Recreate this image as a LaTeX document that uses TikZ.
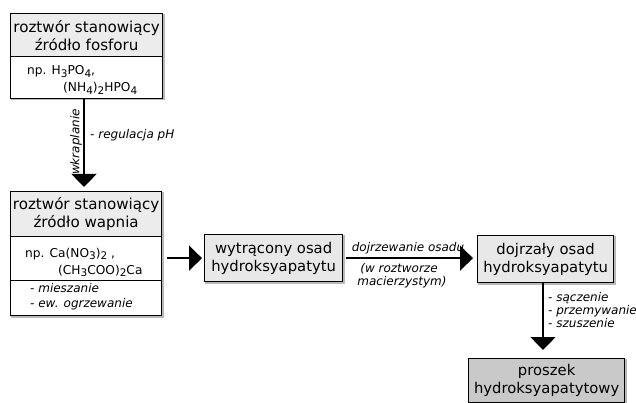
\documentclass[tikz,border=0pt]{standalone}
\usepackage{fontspec}
\setmainfont{DejaVu Sans}
\usetikzlibrary{arrows.meta}
\newcommand{\lowsub}[1]{\raisebox{-0.35ex}{\fontsize{10.5}{11}\selectfont #1}}
\begin{document}
\begin{tikzpicture}[x=1pt,y=-1pt,
  box/.style={draw, line width=1.3pt, inner sep=0pt, anchor=north west, align=center,
     font=\fontsize{14.8}{18}\selectfont},
  shadowed/.style={preaction={draw=gray!55, line width=1.3pt, transform canvas={shift={(1.2pt,-1.2pt)}}}},
  hdr/.style={fill=gray!15, font=\fontsize{15.1}{18}\selectfont},
  light/.style={fill=gray!18},
  dark/.style={fill=gray!42},
  small/.style={font=\fontsize{12.2}{13}\selectfont, inner sep=0pt, anchor=base west},
  note/.style={font=\fontsize{12}{13}\selectfont\itshape, inner sep=0pt, anchor=base west},
  arr/.style={line width=1.5pt, -{Triangle[length=13pt,width=25pt]}}
]
\useasboundingbox (0,0) rectangle (636,403);

% box 1
\node[box, hdr, shadowed, minimum width=152pt, minimum height=43pt] (h1) at (10,13) {roztwór stanowiący\\źródło fosforu};
\node[box, fill=white, shadowed, minimum width=152pt, minimum height=42pt] (b1) at (10,56) {};
\node[small] (f1a) at (27,75) {np. H\lowsub{3}PO\lowsub{4},};
\node[small] (f1b) at (63,92) {(NH\lowsub{4})\lowsub{2}HPO\lowsub{4}};

% box 2
\node[box, hdr, shadowed, minimum width=151pt, minimum height=45pt] (h2) at (10,191) {roztwór stanowiący\\źródło wapnia};
\node[box, fill=white, shadowed, minimum width=151pt, minimum height=44pt] (b2) at (10,236) {};
\node[box, fill=white, shadowed, minimum width=151pt, minimum height=35pt] (c2) at (10,280) {};
\node[small] (f2a) at (25,257) {np. Ca(NO\lowsub{3})\lowsub{2} ,};
\node[small] (f2b) at (58,274) {(CH\lowsub{3}COO)\lowsub{2}Ca};
\node[note] (m2a) at (30,292) {- mieszanie};
\node[note] (m2b) at (30,307) {- ew. ogrzewanie};

% box 3
\node[box, light, shadowed, minimum width=138pt, minimum height=47pt] (w3) at (204,234) {wytrącony osad\\hydroksyapatytu};
% box 4
\node[box, light, shadowed, minimum width=136pt, minimum height=47pt] (d4) at (477,235) {dojrzały osad\\hydroksyapatytu};
% box 5
\node[box, dark, shadowed, minimum width=156pt, minimum height=44pt] (p5) at (468,358) {proszek\\hydroksyapatytowy};

% arrows
\draw[arr, shorten >=4pt] (b1.south -| 84,0) -- (h2.north -| 84,0);
\node[note, rotate=90, anchor=center] (wk) at (76,142) {wkraplanie};
\node[note] (rp) at (90,139) {- regulacja pH};

\draw[arr, shorten <=5pt, shorten >=2pt] (b2.east |- w3.west) -- (w3.west);

\draw[arr, shorten <=3pt, shorten >=4pt] (w3.east) -- (d4.west |- w3.east);
\node[note, anchor=base] (dj) at (408,251) {dojrzewanie osadu};
\node[note, anchor=base] (wr1) at (399,272) {(w roztworze};
\node[note, anchor=base] (wr2) at (402,285) {macierzystym)};

\draw[arr, shorten >=8pt] (d4.south -| 543,0) -- (p5.north -| 543,0);
\node[note] (sc1) at (548,301) {- sączenie};
\node[note] (sc2) at (548,314) {- przemywanie};
\node[note] (sc3) at (548,327) {- szuszenie};
\end{tikzpicture}
\end{document}
